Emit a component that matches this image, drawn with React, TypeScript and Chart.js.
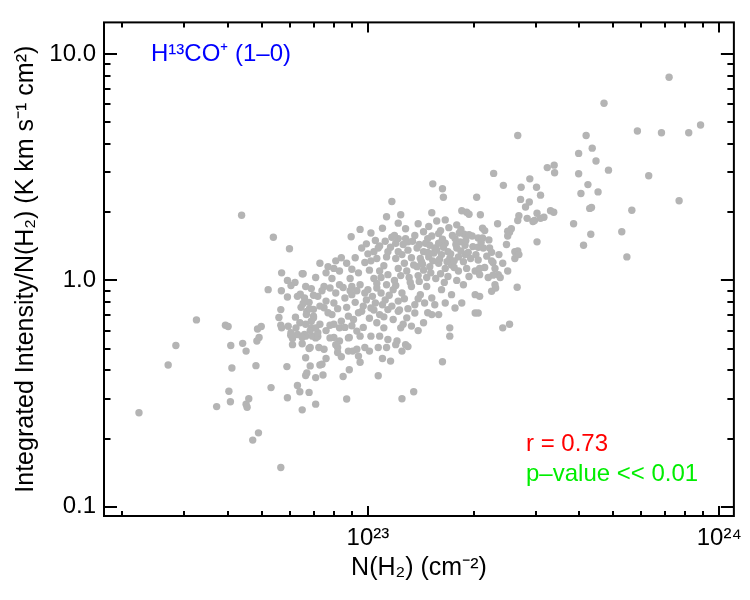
import React, { useEffect, useRef } from "react";
import { Chart, registerables } from "chart.js";

Chart.register(...registerables);

const FONT = "'Liberation Sans', Arial, Helvetica, sans-serif";

// N(H2) column densities, in units of 1e22 cm^-2
const nH2_e22 = [
  // central band
  22.8, 15.3, 16.3, 24.3, 16.4, 20.4, 11.7, 15.2, 18.5, 19.1,
  19.4, 20.9, 11.3, 12.4, 12.2, 16.6, 23.4, 17.9, 21.2, 21.5,
  9.5, 11.0, 14.4, 16.1, 15.9, 18.4, 18.8, 25.0, 25.6, 8.96,
  11.7, 12.2, 15.2, 19.4, 20.6, 21.2, 22.1, 12.8, 13.0, 12.0,
  11.2, 10.8, 10.7, 9.6, 10.0, 10.4, 11.4, 12.2, 13.0, 13.8,
  14.4, 14.6, 15.5, 15.9, 16.6, 16.9, 17.9, 17.7, 18.3, 18.9,
  19.9, 20.6, 21.3, 22.2, 24.8, 26.2, 8.4, 8.7, 10.2, 10.6,
  11.3, 12.0, 12.5, 13.3, 14.1, 14.9, 15.4, 16.2, 17.1, 18.1,
  18.9, 20.6, 22.7, 24.2, 26.2, 7.3, 8.0, 8.3, 8.9, 9.4,
  10.1, 10.4, 10.8, 11.4, 12.2, 12.9, 13.8, 14.4, 15.0, 15.9,
  16.6, 17.3, 18.1, 19.1, 20.2, 20.8, 23.0, 23.5, 25.0, 6.5,
  7.1, 7.6, 7.9, 6.65, 7.5, 7.8, 8.3, 9.0, 9.5, 10.0,
  10.6, 11.3, 11.8, 12.5, 13.3, 14.1, 14.7, 15.2, 16.2, 17.3,
  18.7, 20.2, 20.8, 23.0, 22.5, 6.3, 6.6, 7.2, 7.6, 8.0,
  8.6, 9.0, 9.9, 10.5, 11.2, 12.2, 13.6, 14.5, 15.5, 16.6,
  6.7, 7.0, 7.5, 7.9, 8.4, 8.8, 9.1, 9.6, 10.2, 10.8,
  11.4, 11.8, 12.2, 12.9, 13.6, 14.4, 15.2, 15.9, 17.1, 17.7,
  18.5, 20.2, 6.4, 6.9, 7.8, 8.3, 9.3, 10.6, 11.1, 12.4,
  13.3, 6.65, 7.1, 7.8, 8.3, 8.8, 9.5, 10.2, 10.8, 11.4,
  12.1, 12.8, 6.85, 7.25, 8.2, 9.8, 10.7, 17.1, 24.2, 25.3,
  // dense core
  14.2, 14.8, 15.3, 15.7, 16.0, 16.4, 16.8, 17.2, 17.6, 17.8,
  18.4, 18.7, 19.3, 19.6, 15.0, 16.3, 17.4, 18.2, 19.0, 19.8,
  20.3, 21.0, 21.8, 22.5, 23.6,
  12.4, 12.7, 13.1, 13.5, 13.9, 14.3, 14.7, 15.1, 15.6, 16.1,
  16.9, 17.6, 13.2, 14.0, 16.5, 17.9, 19.4, 21.5, 22.0,
  8.7, 9.2, 9.3, 9.7, 9.8, 10.3, 10.4, 10.9, 11.0, 11.5,
  11.7, 12.0, 12.3, 12.7, 13.0, 13.9, 14.8, 8.9, 9.4, 10.6,
  11.9, 10.9,
  6.45, 6.8, 6.9, 7.0, 7.3, 7.4, 7.7, 8.1, 8.2, 8.5,
  6.9, 7.3, 7.6, 8.0, 8.6, 9.0, 9.7, 10.1, 11.1, 12.6,
  13.9, 6.2, 5.9,
  9.2, 9.8, 9.9, 10.5, 11.1, 11.6, 11.9, 12.6, 13.4, 13.6,
  14.0, 14.8, 9.0, 8.1, 7.7, 10.2, 12.8, 13.9, 14.9, 15.7,
  17.0,
  // lower middle
  16.3, 13.5, 12.5, 10.7, 11.0, 11.6, 10.1, 9.5, 9.4, 8.7,
  8.5, 8.85, 8.0, 8.1, 8.2, 8.4, 8.85, 8.8, 9.05, 9.3,
  11.3, 12.0, 12.5, 13.0, 6.3, 6.4, 6.8, 7.1, 6.5, 6.65,
  6.85, 6.65, 6.7, 7.1, 7.45, 7.3, 7.4, 7.6, 6.8, 7.5,
  6.5, 6.6, 6.95, 7.2,
  // left side
  2.23, 2.70, 2.84, 4.07, 4.4, 4.5, 4.83, 4.9, 4.1, 4.8,
  5.88, 4.02, 4.06, 3.71, 4.5, 4.53, 4.58, 5.3, 5.9, 4.7,
  4.88, 5.65, 6.1, 6.1, 6.03, 4.37, 5.38, 5.98, 5.68, 6.54,
  5.2, 5.67, 6.04, 5.9, 6.42, 6.54, 5.65, 3.25, 3.93, 4.0,
  4.85, 4.97, 5.58, 5.65, 5.68, 5.93, 6.22, 6.68, 6.82, 7.0,
  7.0, 6.24, 6.04, 6.3, 6.5, 7.2, 6.65, 6.85, 7.1,
  // right side
  72, 47, 26.7, 41.8, 58.5, 68.5, 81.9, 88.5, 39.8, 43.5,
  44.6, 48.4, 39.8, 63, 42.3, 40.4, 45.2, 76.9, 42.8, 43.3,
  56.4, 38.5, 52.8, 43.1, 41.1, 54.6, 26.7, 26.9, 30.3, 28.9,
  27.3, 30.2, 32.4, 33.9, 34.0, 31.0, 27.2, 28.8, 28.1, 26.9,
  26.7, 28.4, 29.5, 30.3, 31.0, 31.7, 29.8, 33.1, 33.8, 25.3,
  25.0, 22.5, 20.8, 22.7, 23.8, 26.6, 23.1, 20.6,
];

// Integrated intensity / N(H2), K km s^-1 cm^2 (scaled as in the plot)
const ratio = [
  // central band
  2.97, 2.67, 2.54, 2.63, 2.33, 2.33, 2.23, 1.99, 2.03, 2.00,
  1.96, 1.95, 1.91, 1.95, 1.79, 1.85, 1.78, 1.76, 1.70, 1.66,
  1.68, 1.70, 1.64, 1.66, 1.61, 1.68, 1.60, 1.65, 1.69, 1.56,
  1.55, 1.53, 1.57, 1.59, 1.54, 1.54, 1.51, 1.53, 1.48, 1.46,
  1.49, 1.42, 1.39, 1.39, 1.31, 1.34, 1.34, 1.34, 1.36, 1.39,
  1.34, 1.46, 1.39, 1.46, 1.46, 1.34, 1.39, 1.53, 1.48, 1.43,
  1.41, 1.40, 1.39, 1.39, 1.44, 1.34, 1.26, 1.19, 1.22, 1.25,
  1.27, 1.25, 1.30, 1.26, 1.25, 1.27, 1.32, 1.30, 1.25, 1.27,
  1.30, 1.23, 1.20, 1.19, 1.25, 1.19, 1.13, 1.10, 1.02, 1.08,
  1.11, 1.02, 1.10, 1.06, 1.13, 1.10, 1.15, 1.11, 1.15, 1.19,
  1.13, 1.17, 1.10, 1.13, 1.10, 1.06, 1.13, 1.06, 1.10, 1.07,
  1.03, 1.08, 1.02, 0.94, 0.94, 0.925, 0.957, 0.94, 0.957, 0.91,
  0.925, 0.957, 0.91, 0.88, 0.94, 0.865, 0.94, 0.836, 0.91, 0.865,
  0.957, 0.865, 0.85, 0.957, 0.895, 0.85, 0.836, 0.85, 0.81, 0.795,
  0.836, 0.865, 0.82, 0.795, 0.82, 0.81, 0.78, 0.795, 0.78, 0.795,
  0.73, 0.683, 0.757, 0.706, 0.66, 0.695, 0.672, 0.73, 0.755, 0.706,
  0.743, 0.672, 0.73, 0.683, 0.718, 0.65, 0.706, 0.706, 0.617, 0.755,
  0.795, 0.718, 0.65, 0.617, 0.634, 0.617, 0.597, 0.65, 0.617, 0.617,
  0.628, 0.567, 0.557, 0.557, 0.54, 0.557, 0.567, 0.567, 0.567, 0.548,
  0.54, 0.52, 0.505, 0.505, 0.505, 0.505, 0.505, 0.567, 0.617, 0.64,
  // dense core
  1.21, 1.33, 1.22, 1.36, 1.24, 1.40, 1.21, 1.31, 1.22, 1.44,
  1.35, 1.21, 1.33, 1.25, 1.43, 1.52, 1.58, 1.62, 1.50, 1.57,
  1.30, 1.47, 1.28, 1.33, 1.30,
  1.05, 1.19, 1.03, 1.17, 1.05, 1.18, 1.03, 1.08, 1.02, 1.07,
  1.04, 1.14, 0.98, 0.99, 0.98, 1.00, 1.04, 1.14, 1.03,
  0.76, 0.80, 0.90, 0.77, 0.88, 0.85, 0.74, 0.88, 0.78, 0.86,
  0.77, 0.95, 0.74, 0.83, 0.75, 0.83, 0.72, 0.90, 0.72, 0.97,
  1.00, 1.03,
  0.76, 0.80, 0.92, 0.86, 0.77, 0.90, 0.72, 0.88, 0.75, 0.93,
  0.66, 0.64, 0.60, 0.64, 0.62, 0.63, 0.62, 0.68, 0.69, 0.64,
  0.60, 0.98, 1.00,
  1.26, 1.20, 1.45, 1.50, 1.16, 1.40, 1.58, 1.44, 1.49, 1.58,
  1.44, 1.53, 1.12, 1.22, 1.15, 1.62, 1.69, 1.78, 1.73, 1.83,
  1.71,
  // lower middle
  0.437, 0.322, 0.30, 0.379, 0.452, 0.44, 0.487, 0.435, 0.463, 0.299,
  0.376, 0.403, 0.56, 0.52, 0.48, 0.46, 0.56, 0.487, 0.487, 0.496,
  0.505, 0.52, 0.487, 0.51, 0.343, 0.322, 0.32, 0.284, 0.268, 0.455,
  0.419, 0.38, 0.39, 0.372, 0.382, 0.423, 0.426, 0.452, 0.5, 0.496,
  0.525, 0.577, 0.567, 0.565,
  // left side
  0.26, 0.423, 0.516, 0.516, 0.527, 0.487, 0.54, 0.56, 0.41, 0.42,
  0.416, 0.324, 0.291, 0.277, 0.284, 0.275, 0.30, 0.336, 0.303, 0.197,
  0.212, 0.149, 0.52, 0.553, 0.573, 1.94, 1.55, 1.38, 1.08, 1.07,
  0.91, 0.90, 0.95, 0.845, 0.868, 0.79, 0.743, 0.669, 0.634, 0.626,
  0.61, 0.626, 0.686, 0.634, 0.617, 0.627, 0.688, 0.706, 0.75, 0.745,
  0.695, 0.617, 0.587, 0.577, 0.56, 0.587, 0.64, 0.60, 0.617,
  // right side
  7.9, 6.06, 4.37, 4.37, 4.57, 4.49, 4.49, 4.86, 3.64, 3.84,
  3.37, 3.07, 2.96, 2.90, 2.65, 2.42, 2.46, 2.25, 2.08, 2.10,
  2.04, 1.78, 1.64, 1.60, 1.43, 1.27, 1.35, 1.30, 1.48, 2.81,
  2.58, 2.58, 3.15, 3.23, 2.99, 2.38, 2.28, 2.22, 2.11, 1.93,
  1.84, 1.88, 1.82, 1.98, 1.88, 1.90, 1.84, 2.03, 2.0, 1.63,
  1.57, 1.22, 1.13, 1.055, 1.03, 0.932, 0.925, 0.718,
];

const X_RANGE = [1.773e22, 1.101e24];
const Y_RANGE = [0.091, 13.8];
const xMajorTicks = [1e23, 1e24];
const xMajorLabels = ["10²³", "10²⁴"];
const yMajorTicks = [0.1, 1, 10];
const yMajorLabels = ["0.1", "1.0", "10.0"];

const X_TITLE = "N(H₂) (cm⁻²)";
const Y_TITLE = "Integrated Intensity/N(H₂) (K km s⁻¹ cm²)";
const MOLECULE = "H¹³CO⁺ (1–0)";
const R_TEXT = "r = 0.73";
const P_TEXT = "p–value << 0.01";

function isNice(v: number) {
  const e = Math.floor(Math.log10(v) + 1e-9);
  const m = v / Math.pow(10, e);
  return Math.abs(m - Math.round(m)) < 1e-6;
}
function majorIndex(list: number[], v: number) {
  return list.findIndex((t) => Math.abs(v / t - 1) < 1e-6);
}

const framePlugin = {
  id: "idlFrame",
  afterDraw(chart: any) {
    const { ctx, chartArea: a, scales } = chart;
    const xs = scales.x;
    const ys = scales.y;
    ctx.save();
    ctx.strokeStyle = "#000";
    ctx.lineWidth = 2;
    ctx.beginPath();
    for (const t of xs.ticks) {
      const px = Math.round(xs.getPixelForValue(t.value));
      const len = majorIndex(xMajorTicks, t.value) >= 0 ? 10 : 5;
      ctx.moveTo(px, a.bottom);
      ctx.lineTo(px, a.bottom - len);
      ctx.moveTo(px, a.top);
      ctx.lineTo(px, a.top + len);
    }
    for (const t of ys.ticks) {
      const py = Math.round(ys.getPixelForValue(t.value));
      const len = majorIndex(yMajorTicks, t.value) >= 0 ? 13 : 6.5;
      ctx.moveTo(a.left, py);
      ctx.lineTo(a.left + len, py);
      ctx.moveTo(a.right, py);
      ctx.lineTo(a.right - len, py);
    }
    ctx.stroke();
    ctx.strokeRect(a.left, a.top, a.right - a.left, a.bottom - a.top);

    ctx.font = `24px ${FONT}`;
    ctx.textAlign = "left";
    ctx.textBaseline = "alphabetic";
    ctx.fillStyle = "#0000ff";
    ctx.fillText(MOLECULE, a.left + 47, a.top + 39);
    ctx.fillStyle = "#ff0000";
    ctx.fillText(R_TEXT, a.left + 422, a.top + 429);
    ctx.fillStyle = "#00ee00";
    ctx.fillText(P_TEXT, a.left + 422, a.top + 459);
    ctx.restore();
  },
};

export default function App() {
  const canvasRef = useRef<HTMLCanvasElement | null>(null);

  useEffect(() => {
    const canvas = canvasRef.current;
    if (!canvas) return;
    const points = nH2_e22.map((v, i) => ({ x: v * 1e22, y: ratio[i] }));
    const chart = new Chart(canvas, {
      type: "scatter",
      data: {
        datasets: [
          {
            data: points,
            backgroundColor: "#b4b4b4",
            borderWidth: 0,
            pointRadius: 3.7,
            pointHoverRadius: 3.7,
          },
        ],
      },
      options: {
        animation: false,
        responsive: false,
        events: [],
        layout: { padding: { left: 0, top: 21, right: 13, bottom: 0 } },
        plugins: {
          legend: { display: false },
          tooltip: { enabled: false },
        },
        scales: {
          x: {
            type: "logarithmic",
            position: "bottom",
            min: X_RANGE[0],
            max: X_RANGE[1],
            grid: { display: false, drawTicks: false },
            border: { display: false },
            afterBuildTicks: (s: any) => {
              s.ticks = s.ticks.filter((t: any) => isNice(t.value));
            },
            afterFit: (s: any) => {
              s.height = 84;
            },
            ticks: {
              autoSkip: false,
              maxRotation: 0,
              minRotation: 0,
              padding: 8,
              color: "#000",
              font: { family: FONT, size: 24 },
              callback: (v: any) => {
                const i = majorIndex(xMajorTicks, Number(v));
                return i >= 0 ? xMajorLabels[i] : "";
              },
            },
            title: {
              display: true,
              text: X_TITLE,
              color: "#000",
              font: { family: FONT, size: 25 },
              padding: { top: 0, bottom: 17 },
            },
          },
          y: {
            type: "logarithmic",
            position: "left",
            min: Y_RANGE[0],
            max: Y_RANGE[1],
            grid: { display: false, drawTicks: false },
            border: { display: false },
            afterBuildTicks: (s: any) => {
              s.ticks = s.ticks.filter((t: any) => isNice(t.value));
            },
            afterFit: (s: any) => {
              s.width = 104;
            },
            ticks: {
              autoSkip: false,
              padding: 8,
              color: "#000",
              font: { family: FONT, size: 24 },
              callback: (v: any) => {
                const i = majorIndex(yMajorTicks, Number(v));
                return i >= 0 ? yMajorLabels[i] : "";
              },
            },
            title: {
              display: true,
              text: Y_TITLE,
              color: "#000",
              font: { family: FONT, size: 25 },
              padding: { top: 11, bottom: 0 },
            },
          },
        },
      },
      plugins: [framePlugin],
    });
    return () => chart.destroy();
  }, []);

  return (
    <div style={{ position: "absolute", left: 0, top: 0, width: 750, height: 600, background: "#fff" }}>
      <canvas ref={canvasRef} width={750} height={600} style={{ width: 750, height: 600, display: "block" }} />
    </div>
  );
}
